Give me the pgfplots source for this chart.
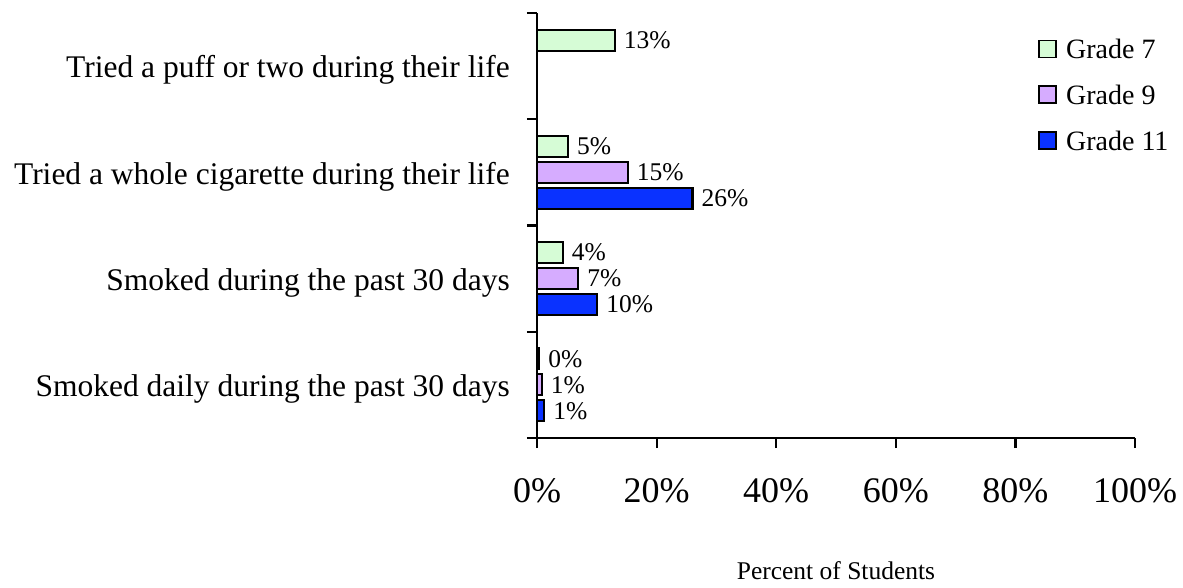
\documentclass[border=0pt]{standalone}
\usepackage{pgfplots}
\pgfplotsset{compat=1.18}
\usepackage{fontspec}
\setmainfont{Liberation Serif}
\definecolor{gseven}{RGB}{214,252,214}
\definecolor{gnine}{RGB}{214,172,255}
\definecolor{geleven}{RGB}{10,50,255}
\begin{document}
\begin{tikzpicture}
\path[use as bounding box] (0,0) rectangle (1183pt,587pt);
\begin{axis}[
  at={(537pt,149pt)}, anchor=south west,
  scale only axis, width=598pt, height=425pt,
  xmin=0, xmax=100, ymin=-0.5, ymax=3.5,
  clip=false,
  axis x line*=bottom, axis y line*=left,
  axis line style={line width=2.2pt},
  tick align=outside,
  major tick length=10pt,
  tick style={line width=2.2pt, black},
  xtick={0,20,40,60,80,100},
  xticklabels={0\%,20\%,40\%,60\%,80\%,100\%},
  xticklabel style={font=\fontsize{36}{40}\selectfont, inner sep=0pt, anchor=north, yshift=-30pt},
  ytick={-0.5,0.5,1.5,2.5,3.5},
  yticklabels={},
  extra y ticks={0,1,2,3},
  extra y tick labels={Smoked daily during the past 30 days,Smoked during the past 30 days,Tried a whole cigarette during their life,Tried a puff or two during their life},
  extra y tick style={major tick length=0pt, yticklabel style={font=\fontsize{31.5}{34}\selectfont, anchor=east, inner sep=0pt, xshift=-27pt, yshift=-4pt}},
  xlabel={Percent of Students},
  xlabel style={font=\fontsize{25.5}{28}\selectfont, at={(axis description cs:0.5,0)}, anchor=center, yshift=-133pt},
  xbar, bar width=21pt,
  nodes near coords={\pgfplotspointmeta},
  point meta=explicit symbolic,
  nodes near coords style={font=\fontsize{25.5}{28}\selectfont, anchor=west, inner sep=0pt, xshift=8pt},
  legend style={draw=none, fill=none, at={(0.838,0.944)}, anchor=north west,
    font=\fontsize{28}{30}\selectfont, row sep=21pt, column sep=7pt, inner sep=0pt, nodes={inner sep=2pt}},
  legend cell align=left,
  legend image code/.code={\draw[#1, line width=1.8pt] (0pt,-8pt) rectangle (17pt,9pt);},
]
\addplot[fill=gseven, draw=black, line width=2.2pt, bar shift=26pt] coordinates {
  (13,3) [13\%]
  (5.2,2) [5\%]
  (4.3,1) [4\%]
  (0.4,0) [0\%]
};
\addlegendentry{Grade 7}
\addplot[fill=gnine, draw=black, line width=2.2pt, bar shift=0pt] coordinates {
  (15.2,2) [15\%]
  (6.9,1) [7\%]
  (0.8,0) [1\%]
};
\addlegendentry{Grade 9}
\addplot[fill=geleven, draw=black, line width=2.2pt, bar shift=-26pt] coordinates {
  (26,2) [26\%]
  (10.1,1) [10\%]
  (1.2,0) [1\%]
};
\addlegendentry{Grade 11}
\end{axis}
\end{tikzpicture}
\end{document}
